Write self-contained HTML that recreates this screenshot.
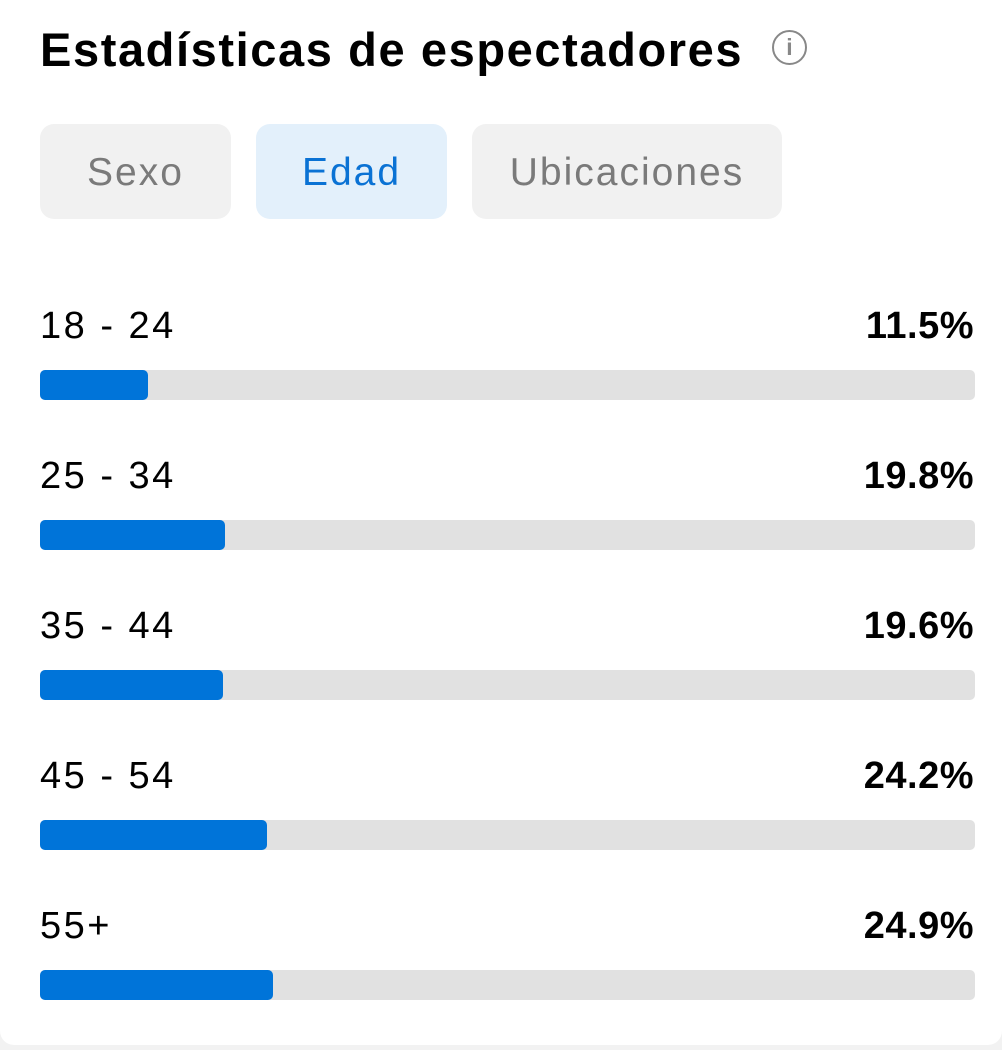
<!DOCTYPE html>
<html><head><meta charset="utf-8"><style>
body{margin:0;width:1002px;height:1050px;background:#f2f2f2;font-family:"Liberation Sans",sans-serif;position:relative;overflow:hidden}
.card{position:absolute;left:0;top:0;width:1002px;height:1045px;background:#fff;border-radius:0 0 14px 14px}
.t{position:absolute;left:40px;top:22px;font-size:47px;font-weight:bold;color:#000;letter-spacing:1.6px}
.i{position:absolute;left:772px;top:30px;width:35px;height:35px;border:2.5px solid #888;border-radius:50%;box-sizing:border-box;color:#888;font-size:23px;text-align:center;line-height:30px;font-weight:bold}
.tab{position:absolute;top:124px;height:95px;border-radius:14px;background:#f1f1f1;color:#7a7a7a;font-size:39px;letter-spacing:2px;line-height:97px;text-align:center}
.lab{position:absolute;left:40px;font-size:38px;color:#000;letter-spacing:2.5px}
.pct{position:absolute;right:28px;font-size:38px;color:#000;font-weight:bold;letter-spacing:0.5px}
.tr{position:absolute;left:40px;width:935px;height:30px;background:#e1e1e1;border-radius:5px}
.f{height:30px;background:#0074d9;border-radius:5px}
</style></head><body><div class="card">
<div class="t">Estadísticas de espectadores</div>
<div class="i">i</div>
<div class="tab" style="left:40px;width:191px">Sexo</div>
<div class="tab" style="left:256px;width:191px;background:#e3f0fb;color:#0a72d4">Edad</div>
<div class="tab" style="left:472px;width:310px">Ubicaciones</div>

<div class="lab" style="top:305px">18 - 24</div><div class="pct" style="top:305px">11.5%</div>
<div class="tr" style="top:370px"><div class="f" style="width:108px"></div></div>
<div class="lab" style="top:455px">25 - 34</div><div class="pct" style="top:455px">19.8%</div>
<div class="tr" style="top:520px"><div class="f" style="width:185px"></div></div>
<div class="lab" style="top:605px">35 - 44</div><div class="pct" style="top:605px">19.6%</div>
<div class="tr" style="top:670px"><div class="f" style="width:183px"></div></div>
<div class="lab" style="top:755px">45 - 54</div><div class="pct" style="top:755px">24.2%</div>
<div class="tr" style="top:820px"><div class="f" style="width:227px"></div></div>
<div class="lab" style="top:905px">55+</div><div class="pct" style="top:905px">24.9%</div>
<div class="tr" style="top:970px"><div class="f" style="width:233px"></div></div>
</div></body></html>
